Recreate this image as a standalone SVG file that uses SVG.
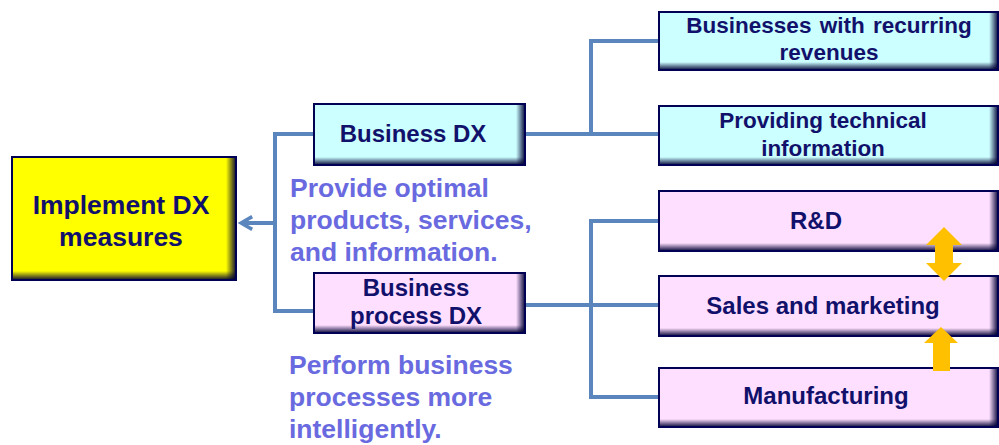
<svg xmlns="http://www.w3.org/2000/svg" width="999" height="445" viewBox="0 0 999 445">
<defs>
<linearGradient id="shR" x1="0" y1="0" x2="1" y2="0">
<stop offset="0" stop-color="#000033" stop-opacity="0"/>
<stop offset="1" stop-color="#000033" stop-opacity="0.85"/>
</linearGradient>
<linearGradient id="shB" x1="0" y1="0" x2="0" y2="1">
<stop offset="0" stop-color="#000033" stop-opacity="0"/>
<stop offset="1" stop-color="#000033" stop-opacity="0.85"/>
</linearGradient>
<marker id="ah" viewBox="0 0 10 10" refX="8" refY="5" markerWidth="4" markerHeight="4" orient="auto" markerUnits="strokeWidth">
<path d="M1,1 L8,5 L1,9" fill="none" stroke="#5b86bd" stroke-width="2.2"/>
</marker>
</defs>
<style>
.box{stroke:#000055;stroke-width:2}
.y{fill:#ffff00}
.c{fill:#ccffff}
.p{fill:#ffdfff}
.t{font-family:"Liberation Sans",Arial,sans-serif;font-weight:bold;fill:#11116b;text-anchor:middle}
.n{font-family:"Liberation Sans",Arial,sans-serif;font-weight:bold;fill:#6a6ae0;font-size:26.5px}
.con{fill:none;stroke:#5b86bd;stroke-width:4}
.or{fill:#ffc000}
</style>
<rect width="999" height="445" fill="#ffffff"/>
<g id="connectors">
<polyline class="con" points="314,134 275,134 275,311 314,311"/>
<line class="con" x1="275" y1="223" x2="241" y2="223" marker-end="url(#ah)"/>
<polyline class="con" points="525,134 591,134 591,41 659,41"/>
<line class="con" x1="591" y1="134" x2="659" y2="134"/>
<polyline class="con" points="525,305 591,305 591,221 659,221"/>
<polyline class="con" points="591,305 591,397 659,397"/>
<line class="con" x1="591" y1="305" x2="659" y2="305"/>
</g>
<g id="implement">
<rect class="box y" x="12" y="157" width="224" height="123"/>
<rect x="226" y="158" width="9" height="121" fill="url(#shR)"/>
<rect x="13" y="271" width="222" height="8" fill="url(#shB)"/>
<text class="t" font-size="26.5" x="121" y="214">Implement DX</text>
<text class="t" font-size="26.5" x="121" y="246">measures</text>
</g>
<g id="business-dx">
<rect class="box c" x="314" y="104" width="211" height="61"/>
<rect x="516" y="105" width="8" height="59" fill="url(#shR)"/>
<rect x="315" y="157" width="209" height="7" fill="url(#shB)"/>
<text class="t" font-size="24" x="413" y="142">Business DX</text>
</g>
<g id="business-process-dx">
<rect class="box p" x="314" y="273" width="211" height="60"/>
<rect x="516" y="274" width="8" height="58" fill="url(#shR)"/>
<rect x="315" y="325" width="209" height="7" fill="url(#shB)"/>
<text class="t" font-size="24" x="416" y="296">Business</text>
<text class="t" font-size="24" x="416" y="324">process DX</text>
</g>
<g id="note1">
<text class="n" x="290" y="197">Provide optimal</text>
<text class="n" x="290" y="229">products, services,</text>
<text class="n" x="290" y="261">and information.</text>
</g>
<g id="note2">
<text class="n" x="289" y="374">Perform business</text>
<text class="n" x="289" y="406">processes more</text>
<text class="n" x="289" y="438">intelligently.</text>
</g>
<g id="recurring">
<rect class="box c" x="659" y="12" width="339" height="58"/>
<rect x="989" y="13" width="8" height="56" fill="url(#shR)"/>
<rect x="660" y="62" width="337" height="7" fill="url(#shB)"/>
<text class="t" font-size="22.5" x="829" y="33" word-spacing="2">Businesses with recurring</text>
<text class="t" font-size="22.5" x="829" y="60">revenues</text>
</g>
<g id="technical">
<rect class="box c" x="659" y="106" width="339" height="59"/>
<rect x="989" y="107" width="8" height="57" fill="url(#shR)"/>
<rect x="660" y="157" width="337" height="7" fill="url(#shB)"/>
<text class="t" font-size="22.5" x="823" y="128">Providing technical</text>
<text class="t" font-size="22.5" x="823" y="156">information</text>
</g>
<g id="rnd">
<rect class="box p" x="659" y="191" width="339" height="60"/>
<rect x="989" y="192" width="8" height="58" fill="url(#shR)"/>
<rect x="660" y="243" width="337" height="7" fill="url(#shB)"/>
<text class="t" font-size="24" x="816" y="229">R&amp;D</text>
</g>
<g id="sales">
<rect class="box p" x="659" y="276" width="339" height="60"/>
<rect x="989" y="277" width="8" height="58" fill="url(#shR)"/>
<rect x="660" y="328" width="337" height="7" fill="url(#shB)"/>
<text class="t" font-size="24" x="823" y="314">Sales and marketing</text>
</g>
<g id="manufacturing">
<rect class="box p" x="659" y="368" width="339" height="59"/>
<rect x="989" y="369" width="8" height="57" fill="url(#shR)"/>
<rect x="660" y="419" width="337" height="7" fill="url(#shB)"/>
<text class="t" font-size="24" x="826" y="404">Manufacturing</text>
</g>
<g id="flow-arrows">
<polygon class="or" points="944,227 962,245 953,245 953,263 962,263 944,281 926,263 935,263 935,245 926,245"/>
<polygon class="or" points="941,327 958,343 950,343 950,371 933,371 933,343 924,343"/>
</g>
</svg>
